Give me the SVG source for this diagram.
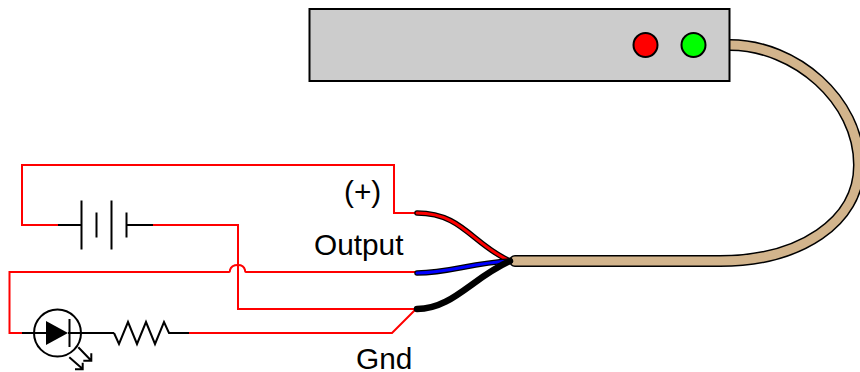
<svg xmlns="http://www.w3.org/2000/svg" width="860" height="372" viewBox="0 0 860 372">
<style>
.r{fill:none;stroke:#f00;stroke-width:2}
.k{fill:none;stroke:#000;stroke-width:2}
.t{font-family:"Liberation Sans",Arial,sans-serif;font-size:29.800px;fill:#000}
.w{fill:none;stroke-linecap:round}
</style>
<rect width="860" height="372" fill="#fff"/>
<g id="cable">
<path class="w" d="M515 261H720C800 261 859 222 859 165C859 100 795 45 730 45" stroke="#000" stroke-width="12"/>
<path class="w" d="M515 261H720C800 261 859 222 859 165C859 100 795 45 730 45" stroke="#d2b48c" stroke-width="9"/>
</g>
<g id="controller">
<rect x="309.500" y="9" width="420" height="72" fill="#ccc" stroke="#000" stroke-width="2"/>
<circle cx="645.500" cy="45" r="12" fill="#f00" stroke="#000" stroke-width="2"/>
<circle cx="693.500" cy="45" r="12" fill="#0f0" stroke="#000" stroke-width="2"/>
</g>
<g id="connectors">
<path class="r" d="M416 213H394V165H22V225H58"/>
<path class="r" d="M153 225H238V309H416"/>
<path class="r" d="M416 272H246C245 272 245 271 245 270C244 266 241 265 238 265C235 265 231 266 230 270C230 271 230 272 229 272H9.500V333H22"/>
<path class="r" d="M189 333H392L416 309"/>
</g>
<g id="wires">
<path class="w" d="M417 213C462 213 472 244 510 261" stroke="#000" stroke-width="5.500"/>
<path class="w" d="M417 213C462 213 472 244 510 261" stroke="#f00" stroke-width="3"/>
<path class="w" d="M417 273C450 273 470 263 510 261" stroke="#000" stroke-width="5.500"/>
<path class="w" d="M417 273C450 273 470 263 510 261" stroke="#00f" stroke-width="3"/>
<path class="w" d="M417 309C452 309 472 278 510 261" stroke="#000" stroke-width="6.500"/>
</g>
<g id="battery">
<path class="k" d="M58 225H81.500M81.500 200.500V249.500M96.500 212.500V237.500M111.500 200.500V249.500M126.500 212.500V237.500M126.500 225H153"/>
</g>
<g id="led">
<circle cx="57.500" cy="333" r="23.500" class="k"/>
<path d="M46 321L68 333L46 345Z" fill="#000"/>
<path class="k" d="M22 333H46M69.500 319V347M68 333H114"/>
<path class="k" d="M78.300 347.300L91.300 360.700M91.300 353.300V360.700H83.300M69.300 357.300L83 369.300M82.700 362.700V369.300H75"/>
</g>
<g id="resistor">
<path class="k" d="M114 333L119 344L128 322L137 344L146 322L155 344L164 322L169 333H189"/>
</g>
<g id="labels">
<text class="t" x="344" y="202">(+)</text>
<text class="t" x="314" y="255">Output</text>
<text class="t" x="356" y="368.500">Gnd</text>
</g>
</svg>
